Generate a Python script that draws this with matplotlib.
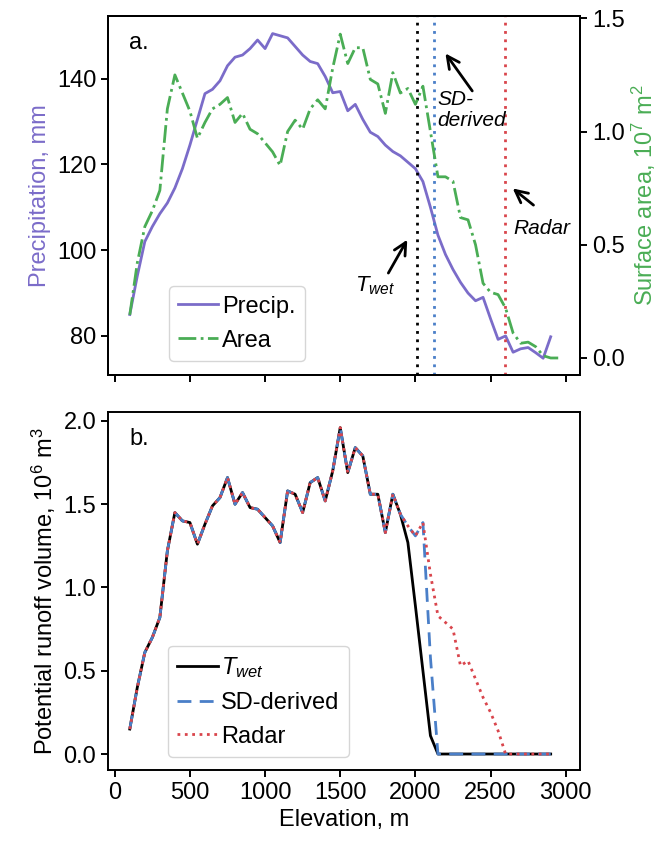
import numpy as np
import matplotlib
matplotlib.use('Agg')
import matplotlib.pyplot as plt

plt.rcParams['font.family'] = ['Liberation Sans', 'DejaVu Sans']
plt.rcParams['font.size'] = 17
plt.rcParams['mathtext.fontset'] = 'custom'
plt.rcParams['mathtext.rm'] = 'Liberation Sans'
plt.rcParams['mathtext.it'] = 'Liberation Sans:italic'
plt.rcParams['axes.linewidth'] = 1.4
plt.rcParams['xtick.major.width'] = 1.4
plt.rcParams['ytick.major.width'] = 1.4
plt.rcParams['xtick.major.size'] = 5
plt.rcParams['ytick.major.size'] = 5

# elevation bins, m
elev = np.arange(100, 2901, 50)
elev_area = np.arange(100, 2951, 50)

# panel a: precipitation (mm) and surface area (10^7 m^2)
precip = [85, 94, 102, 105.5, 108.5, 111, 114.5, 119, 124.5, 130.5,
          136.5, 137.5, 139.5, 143, 145, 145.5, 147, 149, 147, 150.5,
          150, 149.5, 147.5, 145.5, 144, 143.5, 140.5, 136.7, 137, 132.5,
          134, 130.5, 127.5, 126.5, 124.5, 123, 122, 120.5, 119, 116,
          110, 103.5, 99, 95.5, 92.5, 90, 88.2, 89, 84, 79.2,
          80, 76.2, 77, 77.3, 76.1, 74.8, 79.8]
area = [0.19, 0.42, 0.58, 0.65, 0.74, 1.10, 1.25, 1.17, 1.09, 0.97,
        1.04, 1.10, 1.12, 1.15, 1.04, 1.08, 1.01, 0.99, 0.95, 0.91,
        0.85, 1.00, 1.05, 1.01, 1.10, 1.14, 1.10, 1.28, 1.43, 1.30,
        1.37, 1.37, 1.23, 1.21, 1.08, 1.26, 1.17, 1.19, 1.12, 1.20,
        1.00, 0.80, 0.80, 0.78, 0.62, 0.61, 0.50, 0.33, 0.29, 0.28,
        0.22, 0.11, 0.065, 0.07, 0.05, 0.01, 0.0, 0.0]

# snow line elevations, m
snowline = {'twet': 2010, 'sd': 2127, 'radar': 2593}

# panel b: potential runoff volume (10^6 m^3)
common = [0.15, 0.40, 0.61, 0.70, 0.82, 1.22, 1.45, 1.40, 1.39, 1.26,
          1.38, 1.49, 1.54, 1.66, 1.50, 1.57, 1.48, 1.47, 1.42, 1.37,
          1.27, 1.58, 1.56, 1.45, 1.63, 1.66, 1.52, 1.70, 1.96, 1.69,
          1.84, 1.79, 1.56, 1.56, 1.33, 1.56, 1.44]
vol_twet = common + [1.27, 0.89, 0.50, 0.11] + [0.0] * 16
vol_sd = common + [1.37, 1.31, 1.39, 0.58] + [0.0] * 16
vol_radar = common + [1.37, 1.31, 1.39, 1.08, 0.83, 0.79, 0.75, 0.53, 0.56,
                      0.45, 0.34, 0.25, 0.14, 0.0, 0.0, 0.0, 0.0, 0.0, 0.0, 0.0]

purple = '#7b6cc9'
green = '#4aad55'
blue = '#4a7fc8'
red = '#d9454c'

fig = plt.figure(figsize=(6.72, 8.47), dpi=100)
ax1 = fig.add_axes((0.1607, 0.5573, 0.7024, 0.4238))
ax2 = fig.add_axes((0.1607, 0.0909, 0.7024, 0.4227))
ax1r = ax1.twinx()

l1, = ax1.plot(elev, precip, color=purple, lw=2, label='Precip.')
l2, = ax1r.plot(elev_area, area, color=green, lw=2, ls='-.', label='Area')
for key, c in zip(['twet', 'sd', 'radar'], ['black', blue, red]):
    ax1.axvline(snowline[key], color=c, ls=(0, (1, 2)), lw=2)

ax1.set_ylim(70.9, 154.6)
ax1r.set_ylim(-0.075, 1.51)
ax1.set_yticks([80, 100, 120, 140])
ax1r.set_yticks([0.0, 0.5, 1.0, 1.5])
ax1.set_xlim(-45, 3095)
ax1.set_xticks([0, 500, 1000, 1500, 2000, 2500, 3000])
ax1.tick_params(labelbottom=False)
ax1.set_ylabel('Precipitation, mm', color=purple)
ax1r.set_ylabel('Surface area, $10^7$ m$^2$', color=green)
ax1.text(0.045, 0.955, 'a.', transform=ax1.transAxes, va='top', ha='left')
ax1.legend([l1, l2], ['Precip.', 'Area'], loc='lower left',
           bbox_to_anchor=(0.129, 0.039), borderaxespad=0,
           handlelength=1.7, handletextpad=0.15)

# arrows pointing at the snow lines
arr = dict(arrowstyle='->', lw=2, color='black', mutation_scale=22)
ax1.annotate('', xy=(2189, 146.4), xytext=(2389, 136.6), arrowprops=arr)
ax1.annotate('', xy=(1955, 103.0), xytext=(1811, 94.1), arrowprops=arr)
ax1.annotate('', xy=(2633, 114.8), xytext=(2800, 110.1), arrowprops=arr)
ax1.text(2147, 132.6, 'SD-\nderived', ha='left', va='center',
         style='italic', fontsize=15, linespacing=1.15)
ax1.text(1600, 91.6, '$T_{wet}$', ha='left', va='center', fontsize=16)
ax1.text(2653, 105, 'Radar', ha='left', va='center', style='italic',
         fontsize=15)

ax2.plot(elev, vol_twet, color='black', lw=2, label='$T_{wet}$')
ax2.plot(elev, vol_sd, color=blue, lw=2, ls=(0, (5, 3)), label='SD-derived')
ax2.plot(elev, vol_radar, color=red, lw=2, ls=':', label='Radar')
ax2.set_xlim(-45, 3095)
ax2.set_ylim(-0.096, 2.054)
ax2.set_xticks([0, 500, 1000, 1500, 2000, 2500, 3000])
ax2.set_yticks([0.0, 0.5, 1.0, 1.5, 2.0])
ax2.set_xlabel('Elevation, m')
ax2.set_ylabel('Potential runoff volume, $10^6$ m$^3$')
ax2.text(0.045, 0.955, 'b.', transform=ax2.transAxes, va='top', ha='left')
ax2.legend(loc='lower left', bbox_to_anchor=(0.127, 0.036), borderaxespad=0,
           handlelength=1.7, handletextpad=0.15)

fig.savefig('out.png', dpi=100)
